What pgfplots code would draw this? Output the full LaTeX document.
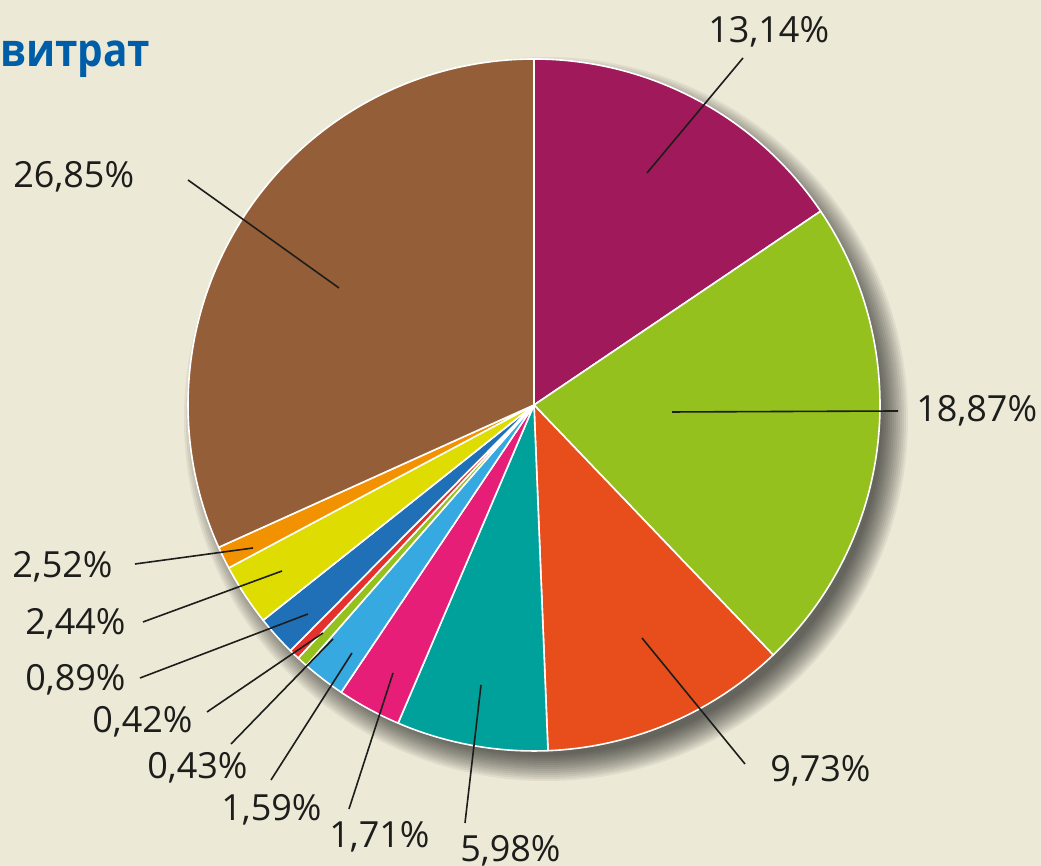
\documentclass[border=0pt]{standalone}
\usepackage{fontspec}
\setmainfont{Open Sans}
\newfontfamily\titlefont{Open Sans}[FakeStretch=0.88]
\usepackage{pgfplots}
\usepackage{pgfplotstable}
\pgfplotsset{compat=1.18}

\definecolor{bgcol}{HTML}{ECE9D7}
\definecolor{titleblue}{HTML}{005EA8}
\definecolor{txt}{HTML}{1D1D1B}
\definecolor{cPurple}{HTML}{A0195A}
\definecolor{cGreen}{HTML}{95C11F}
\definecolor{cOrangeRed}{HTML}{E84E1B}
\definecolor{cTeal}{HTML}{00A19A}
\definecolor{cPink}{HTML}{E61E78}
\definecolor{cLightBlue}{HTML}{36A9E1}
\definecolor{cSmallGreen}{HTML}{95C11F}
\definecolor{cRed}{HTML}{E3312D}
\definecolor{cBlue}{HTML}{1F70B7}
\definecolor{cYellow}{HTML}{DEDC00}
\definecolor{cOrange}{HTML}{F39200}
\definecolor{cBrown}{HTML}{945F38}

% slices, clockwise from the top
\pgfplotstableread{
value color
13.14 cPurple
18.87 cGreen
9.73  cOrangeRed
5.98  cTeal
2.52  cPink
1.71  cLightBlue
0.43  cSmallGreen
0.42  cRed
1.59  cBlue
2.44  cYellow
0.89  cOrange
26.85 cBrown
}\piedata

\begin{document}
\begin{tikzpicture}
\begin{axis}[
  x=0.5pt, y=0.5pt,
  xmin=0, xmax=1041, ymin=0, ymax=866,
  enlargelimits=false,
  hide axis, clip=false,
]
\fill[bgcol] (axis cs:0,0) rectangle (axis cs:1041,866);
\pgfplotsextra{%
  % drop shadow
  \pgfplotsforeachungrouped \k in {0,...,13}{%
    \fill[black, opacity=0.055] (axis cs:546,447) circle[radius={168pt+\k*1pt}];
  }%
  \pgfplotstablegetrowsof{\piedata}%
  \pgfmathtruncatemacro\lastrow{\pgfplotsretval-1}%
  \def\total{0}%
  \pgfplotsforeachungrouped \i in {0,...,\lastrow}{%
    \pgfplotstablegetelem{\i}{value}\of\piedata
    \pgfmathsetmacro\total{\total+\pgfplotsretval}%
  }%
  \def\cum{90}%
  \pgfplotsforeachungrouped \i in {0,...,\lastrow}{%
    \pgfplotstablegetelem{\i}{value}\of\piedata \let\val\pgfplotsretval
    \pgfplotstablegetelem{\i}{color}\of\piedata \let\col\pgfplotsretval
    \pgfmathsetmacro\nxt{\cum-\val/\total*360}%
    \filldraw[fill=\col, draw=white, line width=0.8pt, line join=round]
      (axis cs:534,461) -- ++(\cum:173pt)
      arc[start angle=\cum, end angle=\nxt, radius=173pt] -- cycle;
    \let\cum\nxt
  }%
}
% leader lines (pixel coordinates, y measured from the bottom)
\begin{scope}[txt, line width=0.8pt]
\draw (axis cs:647,693) -- (axis cs:743,808);   % 13,14
\draw (axis cs:672,454) -- (axis cs:898,455);   % 18,87
\draw (axis cs:642,228) -- (axis cs:745,102);   % 9,73
\draw (axis cs:481,181) -- (axis cs:465,43);    % 5,98
\draw (axis cs:393,193) -- (axis cs:349,57);    % 1,71
\draw (axis cs:352,213) -- (axis cs:271,86);    % 1,59
\draw (axis cs:333,227) -- (axis cs:231,122);   % 0,43
\draw (axis cs:323,233) -- (axis cs:207,154);   % 0,42
\draw (axis cs:308,252) -- (axis cs:140,188);   % 0,89
\draw (axis cs:282,295) -- (axis cs:143,244);   % 2,44
\draw (axis cs:253,318) -- (axis cs:135,302);   % 2,52
\draw (axis cs:339,578) -- (axis cs:188,686);   % 26,85
\end{scope}
\begin{scope}[every node/.style={txt, inner sep=0pt, anchor=base west, font=\fontsize{18}{20}\selectfont}]
\node at (axis cs:708,823) {13,14\%};
\node at (axis cs:916,444) {18,87\%};
\node at (axis cs:770,84) {9,73\%};
\node at (axis cs:460,4) {5,98\%};
\node at (axis cs:329,18) {1,71\%};
\node at (axis cs:221,45) {1,59\%};
\node at (axis cs:147,87) {0,43\%};
\node at (axis cs:92,133) {0,42\%};
\node at (axis cs:25,175) {0,89\%};
\node at (axis cs:25,231) {2,44\%};
\node at (axis cs:12,288) {2,52\%};
\node at (axis cs:13,678) {26,85\%};
\end{scope}
\node[anchor=base west, inner sep=0pt, text=titleblue, font=\titlefont\bfseries\fontsize{23}{26}\selectfont] at (axis cs:0,799) {витрат};
\end{axis}
\pgfresetboundingbox
\useasboundingbox (current axis.south west) rectangle (current axis.north east);
\end{tikzpicture}
\end{document}
